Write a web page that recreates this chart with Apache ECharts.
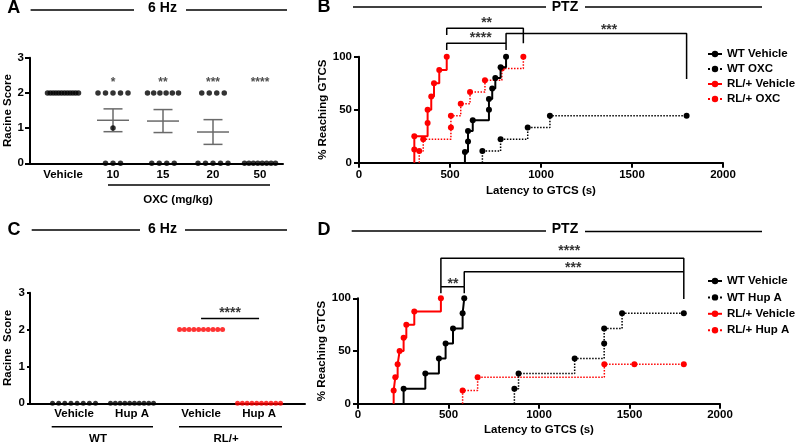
<!DOCTYPE html>
<html><head><meta charset="utf-8">
<script src="https://cdn.jsdelivr.net/npm/echarts@6/dist/echarts.min.js"></script>
<style>html,body{margin:0;padding:0;background:#fff}#c{width:797px;height:443px}</style>
</head><body><div id="c"></div>
<script>
// ---------- Panel A (6 Hz, OXC) ----------
const aGroups = ['Vehicle', '10', '15', '20', '50'];
const aScores = [
  [2,2,2,2,2,2,2,2,2,2,2,2],
  [2,2,2,2,2,1,0,0,0],
  [2,2,2,2,2,2,0,0,0,0],
  [2,2,2,2,0,0,0,0,0],
  [0,0,0,0,0,0,0,0]
];
const aStars = ['', '*', '**', '***', '****'];
const aYTicks = [0, 1, 2, 3];

// ---------- Panel B (PTZ, OXC) : [latency s, % reaching GTCS] ----------
const bWTVehicle  = [[582,10],[599,20],[599,30],[625,40],[714,50],[714,60],[732,70],[749,80],[778,90],[808,100]];
const bWTOXC      = [[678,11.1],[778,22.2],[927,33.3],[1049,44.4],[1800,44.4]];
const bRLVehicle  = [[304,12.5],[304,25],[377,37.5],[377,50],[397,62.5],[412,75],[441,87.5],[482,100]];
const bRLOXC      = [[331,11.1],[353,22.2],[505,33.3],[505,44.4],[559,55.6],[610,66.7],[692,77.8],[785,88.9],[903,100]];
const bNames = ['WT Vehicle', 'WT OXC', 'RL/+ Vehicle', 'RL/+ OXC'];

// ---------- Panel C (6 Hz, Hup A) ----------
const cGroups = ['Vehicle', 'Hup A', 'Vehicle', 'Hup A'];
const cGenotypes = ['WT', 'RL/+'];
const cScores = [
  [0,0,0,0,0,0,0,0],
  [0,0,0,0,0,0,0,0,0,0],
  [2,2,2,2,2,2,2,2,2,2],
  [0,0,0,0,0,0,0,0,0,0]
];
const cStars = '****';

// ---------- Panel D (PTZ, Hup A) ----------
const dWTVehicle = [[252,14.3],[372,28.6],[447,42.9],[484,57.1],[525,71.4],[578,85.7],[587,100]];
const dWTHupA    = [[864,14.3],[887,28.6],[1197,42.9],[1360,57.1],[1360,71.4],[1459,85.7],[1800,85.7]];
const dRLVehicle = [[197,12.5],[206,25],[219,37.5],[230,50],[252,62.5],[267,75],[311,87.5],[458,100]];
const dRLHupA    = [[578,12.5],[661,25],[1361,37.5],[1527,37.5],[1800,37.5]];
const dNames = ['WT Vehicle', 'WT Hup A', 'RL/+ Vehicle', 'RL/+ Hup A'];

const latencyTicks = [0, 500, 1000, 1500, 2000];
const pctTicks = [0, 50, 100];

// ---------- layout / styling ----------
const FONT = 'Liberation Sans';
const BLACK = '#000', RED = '#ff0000';
function txt(size, extra) { return Object.assign({fontFamily: FONT, fontWeight: 'bold', fontSize: size, color: BLACK}, extra || {}); }

const gridA = {left: 30, top: 57.7, width: 253, height: 105.6};
const gridB = {left: 359, top: 56.7, width: 364, height: 106};
const gridC = {left: 30, top: 292.7, width: 275, height: 110.6};
const gridD = {left: 358, top: 298.3, width: 362, height: 105.4};

const aPos = [1, 2, 3, 4, 4.94], aMin = 0.34, aMax = 5.4;
const cPos = [1, 2, 3.19, 4.19], cMin = 0.241, cMax = 4.982;
const aPx = gridA.width / (aMax - aMin), cPx = gridC.width / (cMax - cMin);

function nearestIdx(arr, v) { let b = 0; arr.forEach((p, i) => { if (Math.abs(p - v) < Math.abs(arr[b] - v)) b = i; }); return b; }

function rowLayout(scores, center, pxPerUnit, maxW, maxSp) {
  const byVal = {};
  scores.forEach(v => (byVal[v] = byVal[v] || []).push(v));
  const out = [];
  Object.keys(byVal).forEach(k => {
    const n = byVal[k].length;
    const sp = n > 1 ? Math.min(maxSp, maxW / (n - 1)) : 0;
    for (let j = 0; j < n; j++) out.push([center + (j - (n - 1) / 2) * sp / pxPerUnit, Number(k)]);
  });
  return out;
}
function stats(a) {
  const n = a.length, m = a.reduce((s, v) => s + v, 0) / n;
  const sd = Math.sqrt(a.reduce((s, v) => s + (v - m) * (v - m), 0) / (n - 1));
  return [m, sd / Math.sqrt(n)];
}

const axisLineS = {show: true, onZero: false, lineStyle: {color: BLACK, width: 2}};
const tickS = {show: true, length: 5, lineStyle: {color: BLACK, width: 2}};

function km(pts) { return [{value: [pts[0][0], 0], symbol: 'none'}].concat(pts.map(p => ({value: p}))); }
function kmSeries(name, pts, idx, color, dotted, z) {
  return {name, type: 'line', xAxisIndex: idx, yAxisIndex: idx, step: 'end', data: km(pts), showAllSymbol: true,
    symbol: 'circle', symbolSize: 6, itemStyle: {color}, z: z,
    lineStyle: {color, width: dotted ? 1.5 : 2, type: dotted ? 'dotted' : 'solid'}};
}
function lineAnn(idx, pts, w) {
  return {type: 'line', xAxisIndex: idx, yAxisIndex: idx, data: pts, symbol: 'none', clip: false, silent: true,
    lineStyle: {color: BLACK, width: w || 1.5}, z: 5, tooltip: {show: false}};
}
function starAnn(idx, x, y, text, size, color) {
  return {type: 'scatter', xAxisIndex: idx, yAxisIndex: idx, data: [[x, y, text]], clip: false, silent: true,
    symbol: 'circle', symbolSize: 1, itemStyle: {color: 'rgba(0,0,0,0)'}, z: 6,
    label: {show: true, position: 'inside', formatter: p => p.data[2], offset: [0, 3], ...txt(size, {color: color || BLACK})}};
}
function last(pts) { return pts[pts.length - 1][0]; }

const series = [];
// Panel A
aScores.forEach((g, i) => {
  const st = stats(g);
  series.push({type: 'custom', xAxisIndex: 0, yAxisIndex: 0, data: [[aPos[i], st[0], st[1]]], z: 2,
    renderItem: (params, api) => {
      const x = api.value(0), m = api.value(1), se = api.value(2);
      if (!(se > 0)) return {type: 'group', children: []};
      const pm = api.coord([x, m]), ph = api.coord([x, m + se]), pl = api.coord([x, m - se]);
      const s = {stroke: '#6a6a6a', lineWidth: 1.5};
      return {type: 'group', children: [
        {type: 'line', shape: {x1: pm[0] - 16, y1: pm[1], x2: pm[0] + 16, y2: pm[1]}, style: s},
        {type: 'line', shape: {x1: ph[0], y1: ph[1], x2: pl[0], y2: pl[1]}, style: s},
        {type: 'line', shape: {x1: ph[0] - 9.5, y1: ph[1], x2: ph[0] + 9.5, y2: ph[1]}, style: s},
        {type: 'line', shape: {x1: pl[0] - 9.5, y1: pl[1], x2: pl[0] + 9.5, y2: pl[1]}, style: s}
      ]};
    }});
  series.push({type: 'scatter', xAxisIndex: 0, yAxisIndex: 0, data: rowLayout(g, aPos[i], aPx, 31, 7.5),
    symbolSize: 5.5, itemStyle: {color: BLACK}, z: 4, clip: false});
  if (aStars[i]) series.push(starAnn(0, aPos[i], 2.38, aStars[i], 12, '#222'));
});

// Panel B
series.push(kmSeries('RL/+ OXC', bRLOXC, 1, RED, true, 2));
series.push(kmSeries('RL/+ Vehicle', bRLVehicle, 1, RED, false, 3));
series.push(kmSeries('WT OXC', bWTOXC, 1, BLACK, true, 3));
series.push(kmSeries('WT Vehicle', bWTVehicle, 1, BLACK, false, 4));
(function () {
  const rv = last(bRLVehicle), ro = last(bRLOXC), wv = last(bWTVehicle), wo = last(bWTOXC);
  series.push(lineAnn(1, [[rv, 120.5], [rv, 126.8], [ro, 126.8], [ro, 112.6]]));
  series.push(lineAnn(1, [[rv, 106.3], [rv, 112.6], [wv, 112.6], [wv, 106.3]]));
  series.push(lineAnn(1, [[wv, 112.6], [wv, 122], [wo, 122], [wo, 79]]));
  series.push(starAnn(1, 701, 134.6, '**', 14));
  series.push(starAnn(1, 669, 120.5, '****', 14));
  series.push(starAnn(1, 1374, 128.3, '***', 14));
})();

// Panel C
cScores.forEach((g, i) => {
  series.push({type: 'scatter', xAxisIndex: 2, yAxisIndex: 2, data: rowLayout(g, cPos[i], cPx, 43, 7.5),
    symbolSize: 5, itemStyle: {color: i < 2 ? BLACK : RED}, z: 4, clip: false});
});
series.push(lineAnn(2, [[cPos[2], 2.3], [cPos[3], 2.3]]));
series.push(starAnn(2, (cPos[2] + cPos[3]) / 2, 2.53, cStars, 14));

// Panel D
series.push(kmSeries('RL/+ Hup A', dRLHupA, 3, RED, true, 2));
series.push(kmSeries('RL/+ Vehicle', dRLVehicle, 3, RED, false, 3));
series.push(kmSeries('WT Hup A', dWTHupA, 3, BLACK, true, 3));
series.push(kmSeries('WT Vehicle', dWTVehicle, 3, BLACK, false, 4));
(function () {
  const rv = last(dRLVehicle), wv = last(dWTVehicle), end = last(dWTHupA);
  series.push(lineAnn(3, [[rv, 111], [rv, 138], [end, 138], [end, 99.3]]));
  series.push(lineAnn(3, [[wv, 111], [wv, 125.2], [end, 125.2]]));
  series.push(lineAnn(3, [[rv, 104.7], [rv, 111], [wv, 111], [wv, 104.7]]));
  series.push(starAnn(3, 1167, 147.4, '****', 14));
  series.push(starAnn(3, 1189, 131.6, '***', 14));
  series.push(starAnn(3, 525, 116.4, '**', 14));
})();

function gText(x, y, text, size) {
  return {type: 'text', x: x, y: y, silent: true,
    style: {text: text, font: 'bold ' + size + 'px "' + FONT + '"', fill: BLACK,
      textAlign: 'center', textVerticalAlign: 'middle', align: 'center', verticalAlign: 'middle'}};
}
function gLine(x1, y1, x2, y2, w) {
  return {type: 'line', silent: true, shape: {x1, y1, x2, y2}, style: {stroke: BLACK, lineWidth: w || 1.5}};
}

const graphic = [
  gText(13.7, 8.5, 'A', 18), gLine(30.6, 10, 134, 10), gText(162.5, 8.5, '6 Hz', 14), gLine(186, 10, 287, 10),
  gText(324, 7.5, 'B', 18), gLine(353, 7, 546, 7), gText(565, 7.5, 'PTZ', 14), gLine(585, 7, 762, 7),
  gText(14, 230.5, 'C', 18), gLine(31.7, 230, 140, 230), gText(162.5, 229.5, '6 Hz', 14), gLine(185, 230, 287, 230),
  gText(324, 230, 'D', 18), gLine(351.7, 231, 546, 231), gText(565, 229.5, 'PTZ', 14), gLine(585, 231.5, 762, 231.5),
  gLine(108, 185, 270, 185), gText(178, 200, 'OXC (mg/kg)', 11.5),
  gLine(51.7, 426.7, 153, 426.7), gText(98, 438.5, cGenotypes[0], 11.5),
  gLine(179, 426.7, 282, 426.7), gText(226, 438.5, cGenotypes[1], 11.5)
];

const legendBase = {orient: 'vertical', itemWidth: 14, itemHeight: 8, selectedMode: false,
  textStyle: txt(11.5)};
const plainNum = v => String(v);

const option = {
  animation: false,
  backgroundColor: '#fff',
  textStyle: {fontFamily: FONT},
  grid: [gridA, gridB, gridC, gridD],
  legend: [
    Object.assign({}, legendBase, {data: bNames, left: 702, top: 43, itemGap: 3}),
    Object.assign({}, legendBase, {data: dNames, left: 702, top: 270, itemGap: 4.4})
  ],
  xAxis: [
    {gridIndex: 0, type: 'value', min: aMin, max: aMax, splitLine: {show: false}, axisLine: axisLineS, axisTick: {show: false},
      axisLabel: Object.assign({customValues: aPos, formatter: v => aGroups[nearestIdx(aPos, v)], margin: 6}, txt(11.5))},
    {gridIndex: 1, type: 'value', min: 0, max: 2000, interval: 500, splitLine: {show: false}, axisLine: axisLineS, axisTick: tickS,
      axisLabel: Object.assign({margin: 6, formatter: plainNum}, txt(11.5)),
      name: 'Latency to GTCS (s)', nameLocation: 'middle', nameGap: 22, nameTextStyle: txt(11.5)},
    {gridIndex: 2, type: 'value', min: cMin, max: cMax, splitLine: {show: false}, axisLine: axisLineS, axisTick: {show: false},
      axisLabel: Object.assign({customValues: cPos, formatter: v => cGroups[nearestIdx(cPos, v)], margin: 5}, txt(11.5))},
    {gridIndex: 3, type: 'value', min: 0, max: 2000, interval: 500, splitLine: {show: false}, axisLine: axisLineS, axisTick: tickS,
      axisLabel: Object.assign({margin: 5, formatter: plainNum}, txt(11.5)),
      name: 'Latency to GTCS (s)', nameLocation: 'middle', nameGap: 20, nameTextStyle: txt(11.5)}
  ],
  yAxis: [
    {gridIndex: 0, type: 'value', min: 0, max: 3, interval: 1, splitLine: {show: false}, axisLine: axisLineS, axisTick: tickS,
      axisLabel: Object.assign({margin: 6}, txt(11.5)),
      name: 'Racine Score', nameLocation: 'middle', nameGap: 12, nameRotate: 90, nameTextStyle: txt(11.5)},
    {gridIndex: 1, type: 'value', min: 0, max: 100, interval: 50, splitLine: {show: false}, axisLine: axisLineS, axisTick: tickS,
      axisLabel: Object.assign({margin: 7}, txt(11.5)),
      name: '% Reaching GTCS', nameLocation: 'middle', nameGap: 27, nameRotate: 90, nameTextStyle: txt(11.5)},
    {gridIndex: 2, type: 'value', min: 0, max: 3, interval: 1, splitLine: {show: false}, axisLine: axisLineS,
      axisTick: {show: true, length: 3, lineStyle: {color: BLACK, width: 2}},
      axisLabel: Object.assign({margin: 5}, txt(11.5)),
      name: 'Racine  Score', nameLocation: 'middle', nameGap: 16, nameRotate: 90, nameTextStyle: txt(11.5)},
    {gridIndex: 3, type: 'value', min: 0, max: 100, interval: 50, splitLine: {show: false}, axisLine: axisLineS, axisTick: tickS,
      axisLabel: Object.assign({margin: 7}, txt(11.5)),
      name: '% Reaching GTCS', nameLocation: 'middle', nameGap: 27, nameRotate: 90, nameTextStyle: txt(11.5)}
  ],
  series: series,
  graphic: graphic
};

const chart = echarts.init(document.getElementById('c'), null, {renderer: 'canvas'});
chart.setOption(option);
</script>
</body></html>
